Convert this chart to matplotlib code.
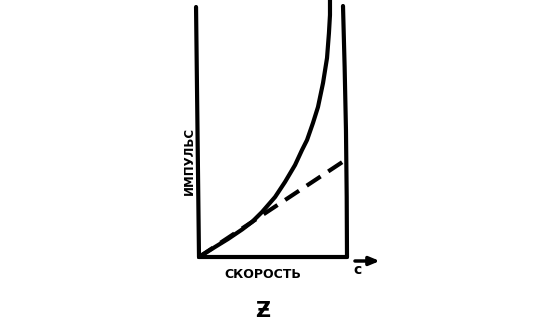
import matplotlib
matplotlib.use("Agg")
import matplotlib.pyplot as plt

# speed in units of c, momentum in arbitrary units
v_rel = [0.0, 0.108, 0.196, 0.291, 0.358, 0.426, 0.514, 0.581, 0.649, 0.696,
         0.730, 0.770, 0.804, 0.838, 0.865, 0.878, 0.885, 0.885]
p_rel = [0.0, 0.10, 0.18, 0.275, 0.35, 0.45, 0.60, 0.75, 0.92, 1.07,
         1.17, 1.34, 1.50, 1.74, 1.99, 2.24, 2.42, 2.57]
v_cls = [0.0, 1.0]
p_cls = [0.0, 0.98]

x_label = "СКОРОСТЬ"
y_label = "ИМПУЛЬС"
c_label = "c"
bottom_label = "Ƶ"

W, H = 560, 320
fig = plt.figure(figsize=(W / 100, H / 100), dpi=100)
fig.patch.set_facecolor("white")

# axes: x 0..1 -> px 199..347, y 0..2.57 -> px 257..0
ax = fig.add_axes([199 / W, (H - 257) / H, 148 / W, 257 / H])
ax.set_xlim(0, 1)
ax.set_ylim(0, 2.57)
ax.axis("off")

lw = 3.0
kw = dict(color="black", lw=lw, solid_capstyle="round",
          solid_joinstyle="round", clip_on=False)

# hand-drawn axes
ax.plot([-0.02, 0.0], [2.5, 0.0], **kw)
ax.plot([0.0, 1.0], [0.0, 0.0], **kw)
ax.plot([0.973, 0.984, 0.993, 0.998, 1.0], [2.51, 1.9, 1.27, 0.6, 0.0], **kw)
# curves
ax.plot(v_rel, p_rel, **kw)
ax.plot(v_cls, p_cls, color="black", lw=lw, dashes=(4, 2.2),
        dash_capstyle="butt", clip_on=False)

# arrow beyond c
ax.annotate("", xy=(1.24, -0.04), xytext=(1.035, -0.04),
            arrowprops=dict(arrowstyle="-|>,head_length=0.6,head_width=0.25",
                            color="black", lw=2.5),
            annotation_clip=False)

fig.text(357 / W, 1 - 270 / H, c_label, fontsize=10, fontweight="bold",
         ha="center", va="center", family="DejaVu Sans")
fig.text(263 / W, 1 - 274 / H, x_label, fontsize=9, fontweight="bold",
         ha="center", va="center", family="DejaVu Sans")
fig.text(189 / W, 1 - 161 / H, y_label, fontsize=8.5, fontweight="bold",
         rotation=90, ha="center", va="center", family="DejaVu Sans")
fig.text(263 / W, 1 - 311 / H, bottom_label, fontsize=15, fontweight="bold",
         ha="center", va="center", family="DejaVu Sans")

fig.savefig("out.png", dpi=100, facecolor="white")
